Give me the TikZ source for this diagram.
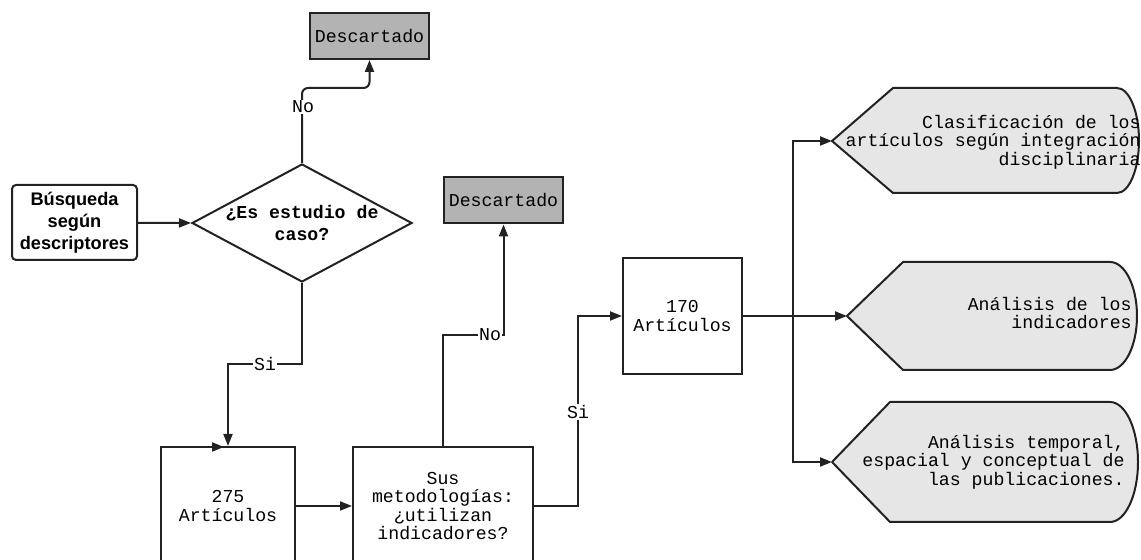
\documentclass[tikz,border=0pt]{standalone}
\usepackage{fontspec}
\setmainfont{Liberation Sans}
\setmonofont{Liberation Mono}
\usepackage{tikz}
\usetikzlibrary{shapes.geometric,arrows.meta}
\definecolor{ink}{HTML}{222222}
\definecolor{discard}{HTML}{B3B3B3}
\definecolor{outfill}{HTML}{E6E6E6}
\newcommand{\monotxt}{\ttfamily\fontsize{9.1}{9.2}\selectfont}
\newcommand{\boldtxt}{\bfseries\fontsize{9.1}{11}\selectfont}
\tikzset{base/.style={draw=ink,line width=1pt},
  box/.style={base,rectangle,inner sep=0pt,align=center,font=\monotxt},
  dbox/.style={box,fill=discard,minimum width=59.5pt,minimum height=23pt},
  arr/.style={draw=ink,line width=1pt,-{Triangle[length=6pt,width=4.5pt]}},
  lbl/.style={fill=white,inner sep=0.6pt,font=\monotxt},
  outshape/.style={base,fill=outfill,line join=round},
  outtext/.style={inner sep=0pt,align=right,anchor=east,font=\monotxt}}

\begin{document}
\begin{tikzpicture}[x=0.5pt,y=-0.5pt]
\clip (0,0) rectangle (1141,560);
% boxes
\node[box,rounded corners=2pt,minimum width=62.5pt,minimum height=37.5pt,font=\boldtxt] (busq) at (74.5,222.5) {Búsqueda\\según\\descriptores};
\node[base,diamond,aspect=1.86,minimum width=110pt,minimum height=59pt,inner sep=0pt] (esc) at (302,223) {};
\node[align=center,inner sep=0pt,font=\ttfamily\boldtxt] (esctxt) at (esc) {¿Es estudio de\\caso?};
\node[dbox] (desc1) at (369.5,36) {Descartado};
\node[dbox] (desc2) at (503.5,200.5) {Descartado};
\node[box,minimum width=67pt,minimum height=59pt] (a275) at (228,506) {275\\Artículos};
\node[box,minimum width=90pt,minimum height=59pt] (sus) at (443,506) {Sus\\metodologías:\\¿utilizan\\indicadores?};
\node[box,minimum width=59.5pt,minimum height=58pt] (a170) at (682.5,316) {170\\Artículos};
% outputs
\draw[outshape] (832,141) coordinate (t1) -- (893,88) -- (1117,88) arc[start angle=-90,end angle=90,x radius=22,y radius=52.5] -- (893,193) -- cycle;
\draw[outshape] (847,316) coordinate (t2) -- (903,262) -- (1110,262) arc[start angle=-90,end angle=90,x radius=27,y radius=54] -- (903,370) -- cycle;
\draw[outshape] (832,462) coordinate (t3) -- (890,402) -- (1110,402) arc[start angle=-90,end angle=90,x radius=28,y radius=60] -- (890,522) -- cycle;
\node[outtext] (o1) at (1141,142) {Clasificación de los\\artículos según integración\\disciplinaria};
\node[outtext] (o2) at (1132,313) {Análisis de los\\indicadores};
\node[outtext] (o3) at (1125,462) {Análisis temporal,\\espacial y conceptual de\\las publicaciones.};
% connectors
\coordinate (k1) at (369.5,88); \coordinate (k2) at (228,364); \coordinate (k3) at (503.5,335); \coordinate (k4) at (578,316); \coordinate (split) at (793,316); \coordinate (stub) at (210,447);
\draw[arr] (busq) -- (esc.west);
\draw[arr,rounded corners=3pt] (esc.north) |- (k1) -- (desc1.south);
\draw[arr] (esc.south) |- (k2) -- (a275.north);
\draw[arr] (stub) -- ++(14,0);
\draw[arr] (a275) -- (sus.west);
\draw[arr] (sus.north) |- (k3) -- (desc2.south);
\draw[arr] (sus.east) -| (k4) -- (a170.west);
\draw[arr] (a170.east) -- (t2);
\draw[arr] (split) |- (t1); \draw[arr] (split) |- (t3);
\node[lbl] (no1) at (303,107) {No}; \node[lbl] (si1) at (265,364) {Si};
\node[lbl] (no2) at (490,335) {No}; \node[lbl] (si2) at (578,412) {Si};
\end{tikzpicture}
\end{document}
